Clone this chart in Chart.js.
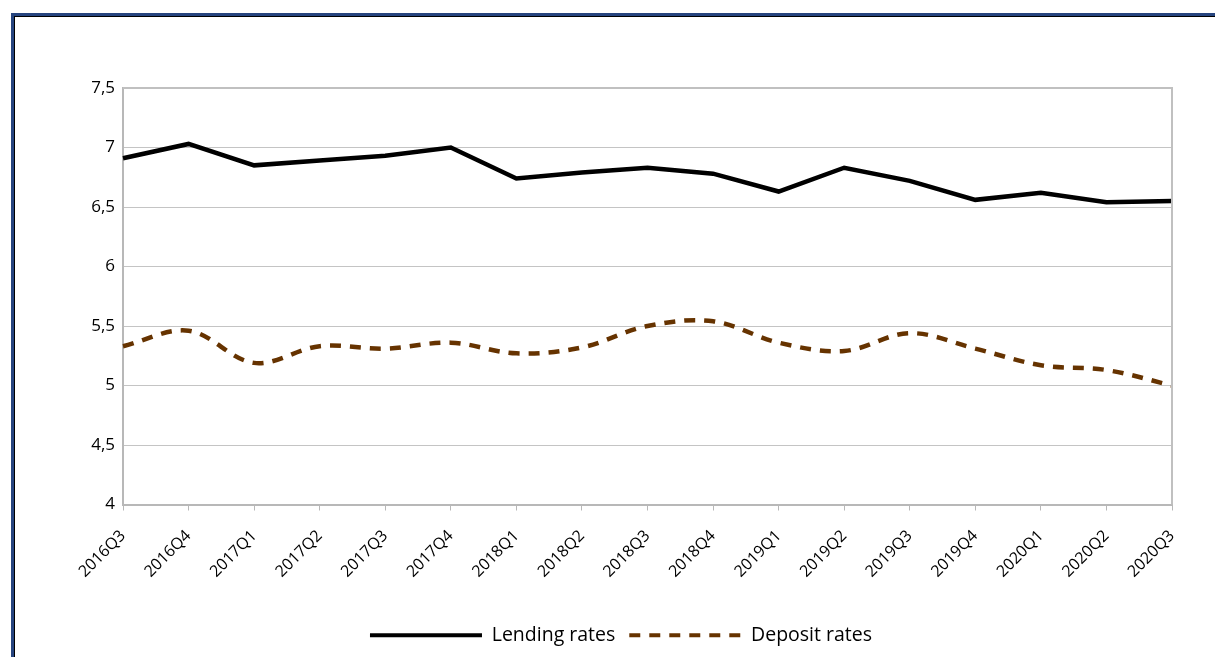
<!DOCTYPE html>
<html>
<head>
<meta charset="utf-8">
<script src="https://cdn.jsdelivr.net/npm/chart.js@4.4.0/dist/chart.umd.min.js"></script>
<style>
  html, body { margin: 0; padding: 0; background: #ffffff; overflow: hidden; }
  #frame { position: absolute; left: 11px; top: 13px; width: 1300px; height: 800px;
           border-left: 3px solid #27457f; border-top: 3px solid #27457f;
           box-shadow: inset 1px 1px 0 #000; }
  #wrap { position: absolute; left: 0; top: 0; width: 1215px; height: 657px; }
</style>
</head>
<body>
<div id="frame"></div>
<div id="wrap"><canvas id="c" width="1215" height="657"></canvas></div>
<script>
const categories = ["2016Q3","2016Q4","2017Q1","2017Q2","2017Q3","2017Q4","2018Q1","2018Q2","2018Q3","2018Q4","2019Q1","2019Q2","2019Q3","2019Q4","2020Q1","2020Q2","2020Q3"];
const lendingRates = [6.91, 7.03, 6.85, 6.89, 6.93, 7.00, 6.74, 6.79, 6.83, 6.78, 6.63, 6.83, 6.72, 6.56, 6.62, 6.54, 6.55];
const depositRates = [5.33, 5.46, 5.19, 5.33, 5.31, 5.36, 5.27, 5.32, 5.50, 5.54, 5.36, 5.29, 5.44, 5.31, 5.17, 5.13, 5.00];
const yTickValues = [4, 4.5, 5, 5.5, 6, 6.5, 7, 7.5];
const yTickLabels = ["4", "4,5", "5", "5,5", "6", "6,5", "7", "7,5"];

const FONT = "'Open Sans', sans-serif";

new Chart(document.getElementById('c'), {
  type: 'line',
  data: {
    labels: categories,
    datasets: [
      { label: 'Lending rates', data: lendingRates, borderColor: '#000000', backgroundColor: '#000000',
        borderWidth: 4.5, pointRadius: 0, tension: 0, pointStyle: 'line', borderJoinStyle: 'miter' },
      { label: 'Deposit rates', data: depositRates, borderColor: '#663300', backgroundColor: '#663300',
        borderWidth: 4.5, borderDash: [11, 9], pointRadius: 0, tension: 0.35, pointStyle: 'line' }
    ]
  },
  options: {
    responsive: false,
    animation: false,
    devicePixelRatio: 1,
    layout: { padding: { left: 70, top: 88, right: 43, bottom: 2 } },
    plugins: {
      tooltip: { enabled: false },
      legend: {
        position: 'bottom',
        labels: {
          usePointStyle: true,
          pointStyleWidth: 112,
          boxHeight: 19,
          padding: 14,
          color: '#000',
          font: { family: FONT, size: 19.5 },
          generateLabels: (chart) => {
            const items = Chart.defaults.plugins.legend.labels.generateLabels(chart);
            return items.map((it, i) => {
              const ds = chart.data.datasets[i];
              it.lineDash = ds.borderDash || [];
              it.lineWidth = 4;
              it.strokeStyle = ds.borderColor;
              it.fillStyle = ds.borderColor;
              it.pointStyle = 'line';
              return it;
            });
          }
        }
      }
    },
    scales: {
      x: {
        offset: false,
        grid: { display: true, drawOnChartArea: false, drawTicks: true, tickLength: 6, color: '#b8b8b8', lineWidth: 1 },
        border: { display: true, color: '#b8b8b8', width: 2 },
        ticks: { minRotation: 45, maxRotation: 45, autoSkip: false, color: '#000', padding: 16,
                 font: { family: FONT, size: 16 } },
        afterFit: (s) => { s.height = 107; }
      },
      y: {
        min: 4, max: 7.5,
        afterBuildTicks: (s) => { s.ticks = yTickValues.map(v => ({ value: v })); },
        grid: { color: '#c4c4c4', lineWidth: 1, drawTicks: false },
        border: { display: true, color: '#b8b8b8', width: 2 },
        ticks: { color: '#000', padding: 8, font: { family: FONT, size: 17 },
                 callback: (v) => { const i = yTickValues.indexOf(v); return i >= 0 ? yTickLabels[i] : ''; } },
        afterFit: (s) => { s.width = 53; }
      }
    }
  },
  plugins: [{
    id: 'plotFrame',
    afterDatasetsDraw(chart) {
      const { ctx, chartArea: a } = chart;
      ctx.save();
      ctx.strokeStyle = '#c0c0c0';
      ctx.lineWidth = 2;
      ctx.beginPath();
      ctx.moveTo(a.left, a.top); ctx.lineTo(a.right, a.top); ctx.lineTo(a.right, a.bottom);
      ctx.stroke();
      ctx.restore();
    }
  }]
});
</script>
</body>
</html>
